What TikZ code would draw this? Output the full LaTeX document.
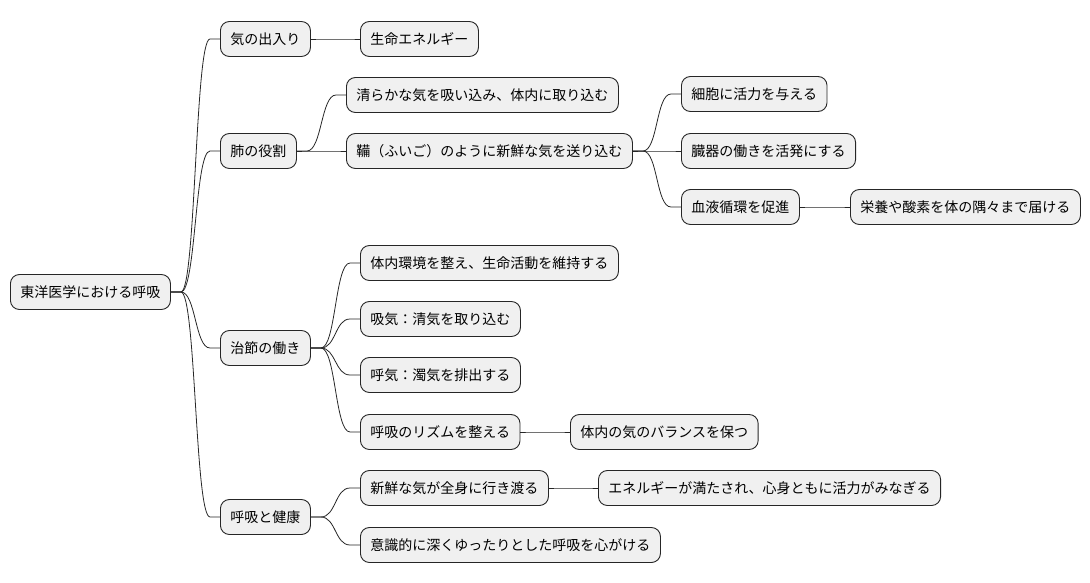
\documentclass[tikz,border=0pt]{standalone}
\usepackage{fontspec}
\setmainfont{Noto Sans CJK JP}
\usetikzlibrary{calc}

\tikzset{
  topic/.style={draw=black!85, fill=black!6, rounded corners=9pt, line width=0.9pt,
    anchor=west, minimum height=35pt, inner xsep=10pt, font=\fontsize{14}{16}\selectfont},
  link/.style={line width=0.8pt, black!85}
}

\begin{document}
\begin{tikzpicture}[x=1pt, y=-1pt]
\useasboundingbox (0,0) rectangle (1090,583);

% Root
\node[topic] (root) at (10,292) {東洋医学における呼吸};

% First level
\node[topic] (qi)     at (220,39)  {気の出入り};
\node[topic] (lung)   at (220,151) {肺の役割};
\node[topic] (chi)    at (220,348) {治節の働き};
\node[topic] (health) at (220,517) {呼吸と健康};

% Qi branch
\node[topic] (life) at (360,39) {生命エネルギー};

% Lung branch
\node[topic] (inhale)  at (346,95)  {清らかな気を吸い込み、体内に取り込む};
\node[topic] (bellows) at (346,151) {鞴（ふいご）のように新鮮な気を送り込む};
\node[topic] (cell)    at (681,94)  {細胞に活力を与える};
\node[topic] (organ)   at (681,151) {臓器の働きを活発にする};
\node[topic] (blood)   at (681,207) {血液循環を促進};
\node[topic] (oxygen)  at (850,207) {栄養や酸素を体の隅々まで届ける};

% Regulation branch
\node[topic] (balance) at (360,263) {体内環境を整え、生命活動を維持する};
\node[topic] (intake)  at (360,319) {吸気：清気を取り込む};
\node[topic] (expel)   at (360,375) {呼気：濁気を排出する};
\node[topic] (rhythm)  at (360,432) {呼吸のリズムを整える};
\node[topic] (keep)    at (570,432) {体内の気のバランスを保つ};

% Health branch
\node[topic] (fresh)   at (360,488) {新鮮な気が全身に行き渡る};
\node[topic] (vital)   at (598,488) {エネルギーが満たされ、心身ともに活力がみなぎる};
\node[topic] (deep)    at (360,545) {意識的に深くゆったりとした呼吸を心がける};

% Connectors
\foreach \p/\c in {root/qi, root/lung, root/chi, root/health, qi/life,
    lung/inhale, lung/bellows, bellows/cell, bellows/organ, bellows/blood, blood/oxygen,
    chi/balance, chi/intake, chi/expel, chi/rhythm, rhythm/keep,
    health/fresh, health/deep, fresh/vital} {
  \draw[link] (\p.east) -- ++(10,0) .. controls +(15,0) and +(-15,0) .. ($(\c.west)+(-10,0)$) -- (\c.west);
}

\end{tikzpicture}
\end{document}
